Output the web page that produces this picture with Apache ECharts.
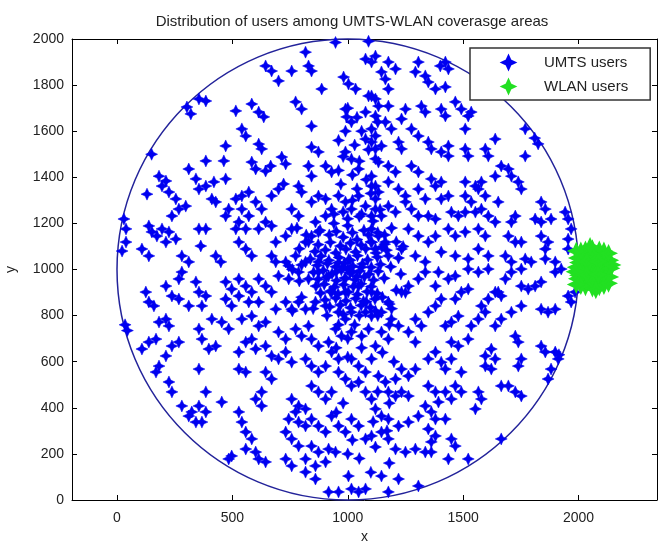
<!DOCTYPE html>
<html>
<head>
<meta charset="utf-8">
<script src="https://cdn.jsdelivr.net/npm/echarts@6/dist/echarts.min.js"></script>
<style>
html,body{margin:0;padding:0;background:#fff;}
#chart{width:662px;height:544px;}
</style>
</head>
<body>
<div id="chart"></div>
<script>
// ---- data ----
const titleText = 'Distribution of users among UMTS-WLAN coverasge areas';
const xTicks = [0, 500, 1000, 1500, 2000];
const yTicks = [0, 200, 400, 600, 800, 1000, 1200, 1400, 1600, 1800, 2000];
const cellCenter = [1000, 1000];
const cellRadius = 1000;

const umtsUpperLeft = [
[947,1985],[817,1943],[644,1883],[670,1861],[757,1861],[830,1883],[843,1861],[700,1818],[887,1783],[982,1835],[1003,1805],[1034,1783],[1077,1913],[1103,1900],[1090,1753],[1120,1740],[355,1740],[385,1731],[303,1705],[320,1675],[584,1718],[614,1683],[636,1662],[515,1688],[774,1727],[800,1696],[843,1622],[990,1696],[995,1662],[1016,1640],[1077,1683],[1103,1610],[1077,1566],[541,1610],[558,1579],[614,1544],[627,1523],[471,1536],[463,1471],[150,1500],[385,1471],[584,1466],[601,1436],[644,1427],[666,1449],[714,1488],[731,1458],[843,1531],[873,1510],[904,1449],[930,1423],[990,1510],[1016,1479],[1047,1436],[1103,1405],[1120,1362],[830,1449],[843,1405],[212,1384],[195,1362],[225,1336],[255,1306],[130,1327],[298,1275],[342,1393],[355,1349],[385,1362],[420,1380],[471,1393],[411,1306],[428,1293],[515,1306],[541,1319],[571,1336],[601,1293],[627,1262],[670,1319],[700,1349],[722,1371],[787,1362],[800,1336],[757,1262],[787,1232],[843,1293],[873,1319],[904,1306],
[30,1219],[39,1176],[39,1119],[22,1080],[138,1189],[151,1163],[173,1145],[195,1176],[225,1163],[108,1089],[138,1059],[212,1119],[255,1132],[281,1059],[311,1033],[355,1176],[385,1176],[363,1102],[428,1059],[450,1033],[515,1176],[528,1206],[558,1176],[528,1119],[558,1089],[584,1059],[614,1176],[644,1206],[670,1189],[688,1119],[731,1145],[757,1176],[670,1059],[731,1033],[774,1059],[817,1119],[843,1145],[873,1163],[860,1206],[904,1232],[930,1262],[990,1293],[1016,1262],[1047,1319],[1077,1275],[1103,1232],[1120,1306],[541,1262],[571,1232],[471,1232],[484,1262],[238,1232],[268,1262],[182,1405],[311,1436],
[1000,1700],[1040,1660],[1130,1640],[990,1600],[1060,1600],[1120,1580],[960,1560],[1030,1540],[1090,1520],[980,1490],[1050,1470],[1120,1480],[960,1430],[1020,1410],[1080,1390],[970,1370],[1040,1350],[1100,1330],[960,1320],[1020,1300],[1140,1260],[980,1250],[1050,1230],[1110,1210],[940,1200],[1000,1190],[1070,1170],[1130,1160],[920,1150],[980,1140],[1040,1130],[1100,1120],[1160,1110]
];

const umtsUpperRight = [
[1090,1990],[1120,1926],[1176,1900],[1207,1870],[1306,1900],[1293,1857],[1336,1840],[1401,1883],[1436,1870],[1423,1900],[1349,1813],[1380,1783],[1423,1792],[1146,1857],[1163,1826],[1103,1753],[1133,1709],[1176,1709],[1176,1783],[1250,1696],[1233,1653],[1319,1709],[1336,1683],[1466,1727],[1492,1696],[1522,1666],[1535,1683],[1405,1696],[1423,1666],[1120,1666],[1163,1640],[1189,1610],[1276,1610],[1306,1579],[1509,1610],[1769,1610],[1810,1570],[1825,1545],[1103,1553],[1120,1523],[1146,1536],[1220,1553],[1233,1523],[1349,1553],[1362,1523],[1405,1510],[1436,1536],[1436,1492],[1509,1523],[1522,1492],[1596,1523],[1609,1492],[1639,1566],[1769,1492],[1133,1466],[1176,1449],[1207,1423],[1276,1449],[1306,1423],[1362,1393],[1405,1380],[1380,1362],[1509,1380],[1553,1362],[1579,1380],[1665,1449],[1696,1436],[1709,1405],[1739,1380],[1752,1349],[1639,1405],[1103,1362],[1133,1336],[1176,1380],[1220,1349],[1250,1319],[1306,1349],[1336,1306],[1405,1306],[1436,1319],[1509,1319],[1535,1293],[1566,1349],[1596,1319],[1652,1293],[1709,1206],[1726,1232],[1838,1293],[1856,1262],[1942,1249],[1955,1219],[1968,1176],[1812,1219],[1838,1206],[1881,1219],[1120,1262],[1146,1232],[1176,1275],[1207,1249],[1250,1293],[1276,1262],[1306,1232],[1349,1232],[1380,1219],[1449,1249],[1479,1232],[1509,1249],[1553,1249],[1579,1262],[1609,1232],[1639,1206],[1436,1176],[1466,1145],[1509,1163],[1566,1176],[1596,1145],[1696,1145],[1726,1119],[1752,1119],[1838,1145],[1868,1119],[1856,1089],[1955,1132],[1955,1089],[1103,1176],[1133,1145],[1163,1119],[1120,1089],[1176,1059],[1263,1176],[1306,1145],[1349,1119],[1380,1145],[1233,1089],[1293,1059],[1336,1033],[1405,1076],[1466,1059],[1522,1046],[1566,1089],[1609,1059],[1683,1059],[1709,1033],[1769,1046],[1795,1033],[1856,1046],[1899,1033]
];

const umtsLowerLeft = [
[125,902],[138,859],[160,842],[35,760],[45,735],[212,928],[238,885],[268,872],[182,772],[212,785],[225,755],[268,959],[281,989],[342,946],[355,902],[385,885],[311,842],[368,842],[138,685],[169,698],[108,655],[212,625],[238,668],[268,685],[182,581],[169,555],[355,742],[368,698],[411,785],[454,772],[484,742],[398,655],[428,668],[355,568],[225,512],[238,469],[281,408],[324,382],[355,408],[385,382],[385,469],[311,364],[342,338],[368,338],[454,425],[528,382],[541,338],[497,191],[484,178],[558,295],[584,265],[558,221],[601,208],[614,178],[644,165],[601,438],[627,469],[627,408],[528,568],[558,555],[528,642],[558,685],[584,698],[541,785],[584,798],[614,755],[644,772],[601,655],[644,668],[670,625],[700,612],[731,642],[757,598],[644,555],[670,525],[757,438],[787,408],[774,382],[817,395],[744,351],[787,338],[731,295],[757,265],[787,234],[731,178],[757,148],[817,178],[843,234],[873,208],[917,221],[947,208],[817,121],[860,148],[904,165],[860,91],[917,35],[960,35],[1016,48],[1047,35],[1077,48],[1003,104],[817,321],[843,351],[873,321],[904,295],[930,364],[960,321],[990,295],[1016,351],[1047,321],[1077,265],[1103,278],[843,495],[873,469],[904,438],[930,469],[960,555],[990,525],[1016,495],[1047,512],[1077,469],[1103,438],[817,612],[843,581],[873,555],[904,581],[930,642],[960,612],[1016,612],[1047,581],[1077,555],[1103,612],[700,729],[731,698],[774,742],[800,711],[830,755],[843,698],[873,668],[917,685],[947,742],[973,711],[1016,729],[1060,711],[1090,742],[960,815],[990,785],[1016,815],[1077,815],[1103,798],[688,828],[731,859],[757,828],[787,859],[817,828],[860,859],[904,842],[930,902],[990,902],[1047,928],[1103,902],[471,946],[497,915],[528,959],[558,928],[584,902],[614,959],[644,928],[670,902],[471,872],[497,842],[528,885],[571,859],[614,859],[700,972],[744,959],[787,989],[830,959],[873,989],[917,972],[688,1033],[744,1016],[817,1033],[873,1033]
];

const umtsLowerRight = [
[1955,885],[1985,902],[1968,859],[1899,828],[1868,815],[1838,828],[1812,928],[1838,946],[1782,915],[1752,928],[1899,989],[1925,1002],[1709,989],[1752,1002],[1683,959],[1652,902],[1726,711],[1739,685],[1838,668],[1856,642],[1899,642],[1912,612],[1915,630],[1752,612],[1739,581],[1868,525],[1881,568],[1665,495],[1696,495],[1726,469],[1752,451],[1566,469],[1579,438],[1553,395],[1665,265],[1522,178],[1596,625],[1622,655],[1639,612],[1596,581],[1622,568],[1449,612],[1492,555],[1423,568],[1449,685],[1479,668],[1522,698],[1639,755],[1665,785],[1709,815],[1752,842],[1535,755],[1566,785],[1596,815],[1423,755],[1449,772],[1479,798],[1579,842],[1609,872],[1639,902],[1665,885],[1466,872],[1492,902],[1522,915],[1380,842],[1405,872],[1349,815],[1293,785],[1319,755],[1263,729],[1293,685],[1380,642],[1349,612],[1405,598],[1466,495],[1492,469],[1449,438],[1349,495],[1380,469],[1423,469],[1393,425],[1233,568],[1263,538],[1293,568],[1207,525],[1133,538],[1163,512],[1176,469],[1207,451],[1233,469],[1263,451],[1120,395],[1146,364],[1176,351],[1220,321],[1263,338],[1306,364],[1336,408],[1362,382],[1380,351],[1349,308],[1380,278],[1362,252],[1449,265],[1466,234],[1436,178],[1207,221],[1250,208],[1293,221],[1336,208],[1362,208],[1146,104],[1220,91],[1306,61],[1176,35],[1176,265],[1146,295],[1423,351],[1233,902],[1263,928],[1306,959],[1336,989],[1176,859],[1146,815],[1189,785],[1220,755],[1146,729],[1176,698],[1120,668],[1393,989],[1436,959],[1466,972],[1522,1002],[1566,989],[1609,1002],[1380,928],
[1130,800],[1180,760],[1150,640],[1200,600],[1130,470],[1180,420],[1110,340],[1170,300],[1120,230],[1180,160],[1100,120],[1050,180],[1000,200],[1020,260],[980,420],[950,380],[1000,620],[950,660],[1060,660],[1000,700],[1080,860],[1150,880],[1190,830],[960,760],[1030,760]
];

const umtsCore = [
[872,1108],[925,1118],[968,1102],[1012,1115],[1058,1106],[1104,1118],[1148,1098],
[858,1078],[903,1085],[948,1072],[992,1088],[1034,1076],[1078,1090],[1122,1072],[1168,1084],
[838,1046],[884,1058],[918,1040],[962,1052],[1004,1044],[1042,1060],[1086,1042],[1128,1054],
[868,1018],[912,1026],[948,1012],[986,1028],[1022,1014],[1064,1024],[1102,1010],[1142,1022],[1186,1012],
[852,988],[894,996],[932,982],[972,998],[1010,986],[1052,994],[1092,980],[1132,992],
[872,958],[908,966],[952,952],[988,964],[1032,956],[1072,968],[1112,954],[1158,962],
[862,928],[898,936],[942,924],[982,934],[1024,926],[1058,938],[1102,926],
[882,898],[924,906],[958,894],[1002,902],[1042,892],[1084,904],[1128,896],
[902,868],[948,876],[992,864],[1034,874],[1068,862],[1118,872],
[922,838],[968,846],[1012,834],[1058,844],[1098,836],
[1000,1000],[980,1010],[1020,990],[960,1030],[1040,970],[990,960],[1010,1040],[950,990],[1060,1010],
[820,1150],[880,1170],[950,1165],[1020,1160],[1090,1150],[1160,1150],[1210,1120],[1220,1050],[1230,980],[1210,910],
[1180,850],[1120,820],[1050,800],[980,805],[910,800],[850,830],[800,880],[790,950],[800,1020],[790,1090],
[830,1120],[1190,1180],[780,1180],[760,1000],[1240,1100],[1250,900],[760,820],[1000,1220],[1060,1240],[940,1240]
];

const wlanUsers = [
[2060,1005],[2030,1010],[2090,1000],[2060,1040],[2060,970],[2010,1000],[2110,1005],[2040,1060],[2080,1060],[2040,950],[2080,950],[2000,1030],[2000,975],[2120,1040],[2120,970],[2030,1085],[2090,1085],[2030,925],[2090,925],[2060,1090],[2060,920],[1990,1010],[2140,1005],[2015,1050],[2105,1050],[2015,955],[2105,955],[2070,1020],[2050,985],[2045,1030],[2075,980],[2135,1040],[2135,968],[1995,1050],[1995,960],[2010,1080],[2110,1080],[2010,930],[2110,930],[2060,1065],[2060,945],
[2035,1035],[2085,1035],[2035,978],[2085,978],[2130,1070],[1990,935],[2130,940],[1990,1080],[2050,1100],[2075,912],[2145,1020],[1985,990]
];

// ---- chart ----
const umtsUsers = [].concat(umtsUpperLeft, umtsUpperRight, umtsLowerLeft, umtsLowerRight, umtsCore);
const star = 'path://M0,-6 L1.9,-1.9 L6,0 L1.9,1.9 L0,6 L-1.9,1.9 L-6,0 L-1.9,-1.9 Z';
const FONT = 'Liberation Sans, Arial, sans-serif';
const XMIN = -195, XMAX = 2340;
const plain = function (v) { return String(v); };

const chart = echarts.init(document.getElementById('chart'), null, {renderer: 'canvas'});
const axisCommon = {
  type: 'value',
  splitLine: {show: false},
  axisLine: {onZero: false, lineStyle: {color: '#000', width: 1}},
};
chart.setOption({
  animation: false,
  backgroundColor: '#fff',
  title: {
    text: titleText, left: 347, top: 9, textAlign: 'center',
    textStyle: {fontFamily: FONT, fontSize: 15, fontWeight: 'normal', color: '#222'}
  },
  grid: {left: 72, right: 5, top: 39, bottom: 44, outerBoundsMode: 'none', containLabel: false},
  legend: {
    orient: 'vertical', left: 470, top: 48,
    backgroundColor: '#fff', borderColor: '#333', borderWidth: 1.5, borderRadius: 0,
    padding: [7, 22, 6, 31], itemGap: 9, itemWidth: 13, itemHeight: 13,
    textStyle: {fontFamily: FONT, fontSize: 15, color: '#222', padding: [0, 0, 0, 24]},
    data: [{name: 'UMTS users', icon: star}, {name: 'WLAN users', icon: star}]
  },
  xAxis: [
    Object.assign({}, axisCommon, {
      min: XMIN, max: XMAX, position: 'bottom',
      axisTick: {inside: true, length: 5, customValues: xTicks, lineStyle: {color: '#000'}},
      axisLabel: {customValues: xTicks, formatter: plain, fontFamily: FONT, fontSize: 14, color: '#222', margin: 11},
      name: 'x', nameLocation: 'middle', nameGap: 30,
      nameTextStyle: {fontFamily: FONT, fontSize: 14, color: '#222'}
    }),
    Object.assign({}, axisCommon, {
      min: XMIN, max: XMAX, position: 'top',
      axisTick: {inside: true, length: 5, customValues: xTicks, lineStyle: {color: '#000'}},
      axisLabel: {show: false}
    })
  ],
  yAxis: [
    Object.assign({}, axisCommon, {
      min: 0, max: 2000, interval: 200, position: 'left',
      axisTick: {inside: true, length: 5, lineStyle: {color: '#000'}},
      axisLabel: {formatter: plain, fontFamily: FONT, fontSize: 14, color: '#222', margin: 8},
      name: 'y', nameLocation: 'middle', nameGap: 54, nameRotate: 90,
      nameTextStyle: {fontFamily: FONT, fontSize: 14, color: '#222'}
    }),
    Object.assign({}, axisCommon, {
      min: 0, max: 2000, interval: 200, position: 'right',
      axisTick: {inside: true, length: 5, lineStyle: {color: '#000'}},
      axisLabel: {show: false}
    })
  ],
  series: [
    {
      name: 'cell', type: 'custom', xAxisIndex: 0, yAxisIndex: 0, silent: true, z: 1,
      data: [[cellCenter[0], cellCenter[1], cellRadius]],
      renderItem: function (params, api) {
        const c = api.coord([api.value(0), api.value(1)]);
        const s = api.size([api.value(2), api.value(2)]);
        return {
          type: 'ellipse',
          shape: {cx: c[0], cy: c[1], rx: s[0], ry: s[1]},
          style: {fill: null, stroke: '#23239a', lineWidth: 1.5}
        };
      }
    },
    {
      name: 'UMTS users', type: 'scatter', data: umtsUsers, z: 3,
      symbol: star, symbolSize: 12,
      itemStyle: {color: '#0000f0', opacity: 1, borderColor: '#0000f0', borderWidth: 0.5}
    },
    {
      name: 'WLAN users', type: 'scatter', data: wlanUsers, z: 3,
      symbol: star, symbolSize: 13,
      itemStyle: {color: '#22e022', opacity: 1, borderColor: '#22e022', borderWidth: 2.5}
    }
  ]
});
</script>
</body>
</html>
